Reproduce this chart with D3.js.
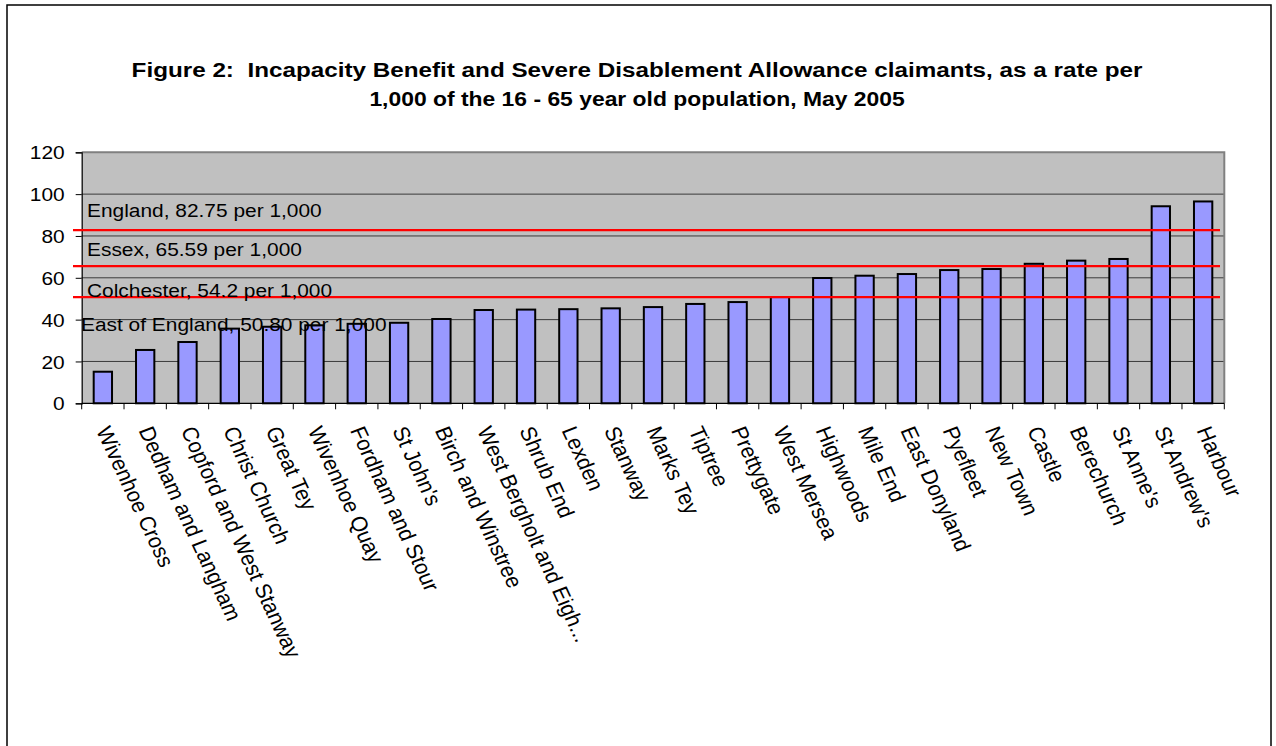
<!DOCTYPE html>
<html>
<head>
<meta charset="utf-8">
<script src="https://cdn.jsdelivr.net/npm/d3@7"></script>
<style>
  html, body { margin: 0; padding: 0; background: #fff; }
  svg { display: block; }
  text { font-family: "Liberation Sans", Arial, sans-serif; fill: #000; white-space: pre; }
</style>
</head>
<body>
<svg id="chart" width="1276" height="746"></svg>
<script>
// Ward names and claimant rates per 1,000 people aged 16-65
const wards = [
  "Wivenhoe Cross", "Dedham and Langham", "Copford and West Stanway", "Christ Church",
  "Great Tey", "Wivenhoe Quay", "Fordham and Stour", "St John's", "Birch and Winstree",
  "West Bergholt and Eigh...", "Shrub End", "Lexden", "Stanway", "Marks Tey", "Tiptree",
  "Prettygate", "West Mersea", "Highwoods", "Mile End", "East Donyland", "Pyefleet",
  "New Town", "Castle", "Berechurch", "St Anne's", "St Andrew's", "Harbour"
];
const rates = [
  15.1, 25.5, 29.3, 35.7, 36.6, 37.3, 38.0, 38.5, 40.3,
  44.6, 44.8, 45.0, 45.4, 46.0, 47.5, 48.4, 50.8, 59.9,
  61.0, 61.8, 63.7, 64.2, 66.7, 68.2, 69.0, 94.2, 96.5
];
const yTicks = [0, 20, 40, 60, 80, 100, 120];

// Comparison rates drawn as red reference lines
const refNames = ["England", "Essex", "East of England"];
const refRates = [82.75, 65.59, 50.80];

// Annotation texts
const noteTexts = [
  "England, 82.75 per 1,000",
  "Essex, 65.59 per 1,000",
  "Colchester, 54.2 per 1,000",
  "East of England, 50.80 per 1,000"
];

const titleLines = [
  "Figure 2:  Incapacity Benefit and Severe Disablement Allowance claimants, as a rate per",
  "1,000 of the 16 - 65 year old population, May 2005"
];

const svg = d3.select("#chart");
const SX = 1.1;          // horizontal text stretch
const FS = 19;           // body font size

// outer chart frame (runs past the bottom edge)
svg.append("rect")
  .attr("x", 7).attr("y", 5).attr("width", 1264).attr("height", 800)
  .attr("fill", "#fff").attr("stroke", "#000").attr("stroke-width", 1.5);

// title
const titleStretch = [1.155, 1.09];
svg.append("g").selectAll("text").data(titleLines).join("text")
  .attr("transform", (d, i) => `translate(637,${77 + i * 29}) scale(${titleStretch[i]},1)`)
  .attr("text-anchor", "middle")
  .attr("font-size", 21).attr("font-weight", "bold")
  .text(d => d);

const plot = { left: 81.7, right: 1224.3, top: 152.3, bottom: 403.3 };

const x = d3.scaleBand().domain(wards).range([plot.left, plot.right]).padding(0);
const y = d3.scaleLinear().domain([0, 120]).range([plot.bottom, plot.top]);

// plot background
svg.append("rect")
  .attr("x", plot.left).attr("y", plot.top)
  .attr("width", plot.right - plot.left).attr("height", plot.bottom - plot.top)
  .attr("fill", "#c0c0c0");

// gridlines
svg.append("g").selectAll("line").data(yTicks.filter(t => t > 0 && t < 120)).join("line")
  .attr("x1", plot.left).attr("x2", plot.right)
  .attr("y1", d => y(d)).attr("y2", d => y(d))
  .attr("stroke", "#3a3a3a").attr("stroke-width", 1);

// gray top and right plot border
svg.append("path")
  .attr("d", `M${plot.left},${plot.top}H${plot.right}V${plot.bottom}`)
  .attr("fill", "none").attr("stroke", "#808080").attr("stroke-width", 2);

// bars
const bw = x.step() * 0.433;
svg.append("g").selectAll("rect").data(wards).join("rect")
  .attr("x", d => x(d) + x.bandwidth() / 2 - bw / 2)
  .attr("y", (d, i) => y(rates[i]))
  .attr("width", bw)
  .attr("height", (d, i) => y(0) - y(rates[i]))
  .attr("fill", "#9999ff").attr("stroke", "#000").attr("stroke-width", 2);

// y axis
const yAxis = d3.axisLeft(y).tickValues(yTicks).tickSize(6).tickPadding(0).tickFormat(d3.format("d"));
const gy = svg.append("g").attr("transform", `translate(${plot.left},0)`).call(yAxis);
gy.select(".domain").attr("stroke", "#000").attr("stroke-width", 1.2);
gy.selectAll(".tick line").attr("stroke", "#000");
gy.selectAll(".tick text").remove();
gy.selectAll(".tick").append("text")
  .attr("transform", `translate(-17,0) scale(${SX},1)`)
  .attr("text-anchor", "end").attr("dy", "0.35em")
  .attr("font-size", FS)
  .text(d => d);

// x axis: ticks on category boundaries
const gx = svg.append("g").attr("transform", `translate(0,${plot.bottom})`);
gx.append("line").attr("x1", plot.left).attr("x2", plot.right)
  .attr("stroke", "#000").attr("stroke-width", 1.2);
const bounds = wards.map(w => x(w)).concat([x(wards[wards.length - 1]) + x.step()]);
gx.selectAll("line.tk").data(bounds).join("line").attr("class", "tk")
  .attr("x1", d => d).attr("x2", d => d).attr("y1", 0).attr("y2", 6)
  .attr("stroke", "#000");
gx.selectAll("text").data(wards).join("text")
  .attr("transform", d => `translate(${x(d) + x.bandwidth() / 2 - 7},${27}) scale(${SX},1) rotate(67)`)
  .attr("font-size", 20.5)
  .text(d => d);

// red reference lines
svg.append("g").selectAll("line").data(refRates).join("line")
  .attr("x1", 73).attr("x2", 1220)
  .attr("y1", d => y(d)).attr("y2", d => y(d))
  .attr("stroke", "#ff0000").attr("stroke-width", 2.2);

// annotation labels
const notePos = [[87, 217], [87, 256], [87, 297], [81, 331]];
svg.append("g").selectAll("text").data(noteTexts).join("text")
  .attr("transform", (d, i) => `translate(${notePos[i][0]},${notePos[i][1]}) scale(${SX},1)`)
  .attr("font-size", FS)
  .text(d => d);
</script>
</body>
</html>
